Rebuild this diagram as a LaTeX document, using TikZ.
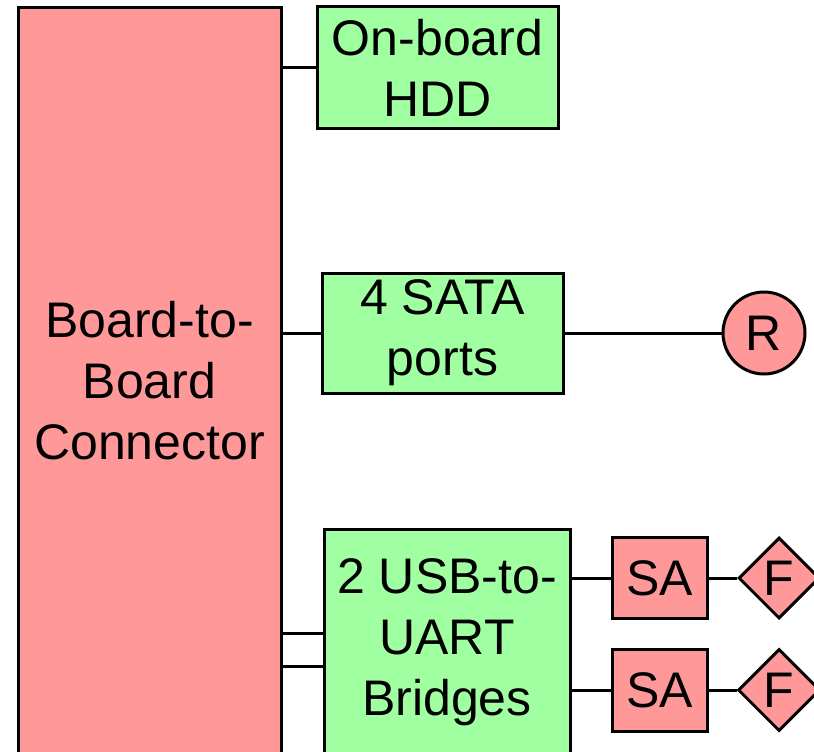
\documentclass[tikz,border=0pt]{standalone}
\usepackage{fontspec}
\setmainfont{Liberation Sans}
\usetikzlibrary{shapes.geometric}
\definecolor{partred}{RGB}{255,153,153}
\definecolor{chipgreen}{RGB}{160,255,160}
\tikzstyle{wire} = [line width=3pt]

\begin{document}
\begin{tikzpicture}
        [
            x=1pt, y=-1pt,
            every node/.style={font=\fontsize{50}{61}\selectfont, align=center, line width=3pt, inner sep=0pt},
            part/.style={rectangle,draw=black,fill=partred},
            chip/.style={rectangle,draw=black,fill=chipgreen},
        ]
    \clip (0,0) rectangle (814,752);

    \node[part, minimum width=263pt, minimum height=746pt] (conn) at (149.5,381) {Board-to-\\Board\\Connector};

    \node[chip, minimum width=241pt, minimum height=121pt] (hdd) at (437.5,67.5) {On-board\\HDD};
    \node[chip, minimum width=241pt, minimum height=120pt] (sata) at (442.5,333) {4 SATA\\ports};
    \node[chip, minimum width=246pt, minimum height=226pt] (usb) at (447,642) {2 USB-to-\\UART\\Bridges};

    \node[part, circle, minimum size=82pt] (R) at (764,333) {R};
    \node[part, minimum width=95pt, minimum height=81pt] (sa1) at (659.5,578) {SA};
    \node[part, minimum width=95pt, minimum height=82pt] (sa2) at (659.5,690) {SA};
    \node[part, diamond, minimum size=81pt] (f1) at (779,578) {F};
    \node[part, diamond, minimum size=82pt] (f2) at (779,690) {F};

    \coordinate (u1) at ([yshift=9pt]usb.west);
    \coordinate (u2) at ([yshift=-24pt]usb.west);

    \draw[wire] (conn.east |- hdd.west) -- (hdd.west);
    \draw[wire] (conn.east |- sata.west) -- (sata.west);
    \draw[wire] (conn.east |- u1) -- (u1);
    \draw[wire] (conn.east |- u2) -- (u2);
    \draw[wire] (sata) -- (R);
    \draw[wire] (usb.east |- sa1.west) -- (sa1.west);
    \draw[wire] (usb.east |- sa2.west) -- (sa2.west);
    \draw[wire] (sa1) -- (f1);
    \draw[wire] (sa2) -- (f2);
\end{tikzpicture}
\end{document}
